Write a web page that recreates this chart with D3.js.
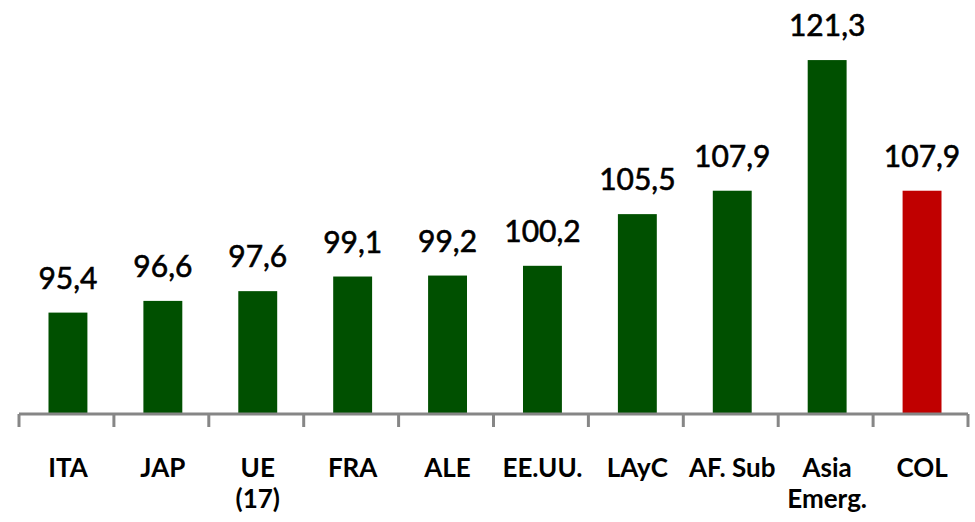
<!DOCTYPE html>
<html>
<head>
<meta charset="utf-8">
<script src="https://cdn.jsdelivr.net/npm/d3@7"></script>
<style>
  body { margin: 0; background: #fff; }
  text { font-family: Lato, "Open Sans", sans-serif; fill: #000; }
</style>
</head>
<body>
<script>
const width = 975, height = 522;

const categories = ['ITA', 'JAP', 'UE|(17)', 'FRA', 'ALE', 'EE.UU.', 'LAyC', 'AF. Sub', 'Asia|Emerg.', 'COL'];
const values = [95.4, 96.6, 97.6, 99.1, 99.2, 100.2, 105.5, 107.9, 121.3, 107.9];
const highlight = 'COL';

const baseY = 414;
const shift = 1.5; // bars sit a touch right of the band centre

const svg = d3.select('body')
    .append('svg')
    .attr('width', width)
    .attr('height', height)

const x = d3.scaleBand()
    .domain(categories)
    .range([19, 968])
    .paddingInner(0.59)
    .paddingOuter(0.295)

const y = d3.scaleLinear()
    .domain([85, 125])
    .range([baseY, 24])

const data = categories.map((c, i) => ({ cat: c, value: values[i] }));
const cx = d => x(d.cat) + x.bandwidth() / 2 + shift;

// bars
svg.selectAll('.bar')
    .data(data)
    .enter()
    .append('rect')
    .attr('class', 'bar')
    .attr('x', d => x(d.cat) + shift)
    .attr('y', d => y(d.value))
    .attr('width', x.bandwidth())
    .attr('height', d => baseY - y(d.value))
    .style('fill', d => d.cat === highlight ? '#c00000' : '#005000')

// value labels
svg.selectAll('.val')
    .data(data)
    .enter()
    .append('text')
    .attr('class', 'val')
    .attr('x', cx)
    .attr('y', d => y(d.value) - 24)
    .attr('text-anchor', 'middle')
    .style('font-size', '30px')
    .style('stroke', '#000')
    .style('stroke-width', 0.6)
    .text(d => d3.format('.1f')(d.value).replace('.', ','))

// axis line and ticks between categories
const axis = svg.append('g').attr('class', 'axis')
axis.append('line')
    .attr('x1', x.range()[0]).attr('x2', x.range()[1])
    .attr('y1', baseY).attr('y2', baseY)
    .style('stroke', '#868686').style('stroke-width', 3)

axis.selectAll('.tick')
    .data(d3.range(categories.length + 1))
    .enter()
    .append('line')
    .attr('x1', i => x.range()[0] + i * x.step())
    .attr('x2', i => x.range()[0] + i * x.step())
    .attr('y1', baseY)
    .attr('y2', baseY + 13)
    .style('stroke', '#868686').style('stroke-width', 3)

// category labels
const labels = svg.selectAll('.cat')
    .data(data)
    .enter()
    .append('text')
    .attr('class', 'cat')
    .attr('x', cx)
    .attr('y', 477)
    .attr('text-anchor', 'middle')
    .style('font-size', '26px')
    .style('font-weight', 'bold')

labels.selectAll('tspan')
    .data(d => d.cat.split('|').map(t => ({ t, cx: cx(d) })))
    .enter()
    .append('tspan')
    .attr('x', d => d.cx)
    .attr('dy', (d, i) => i === 0 ? 0 : 31)
    .text(d => d.t)
</script>
</body>
</html>
